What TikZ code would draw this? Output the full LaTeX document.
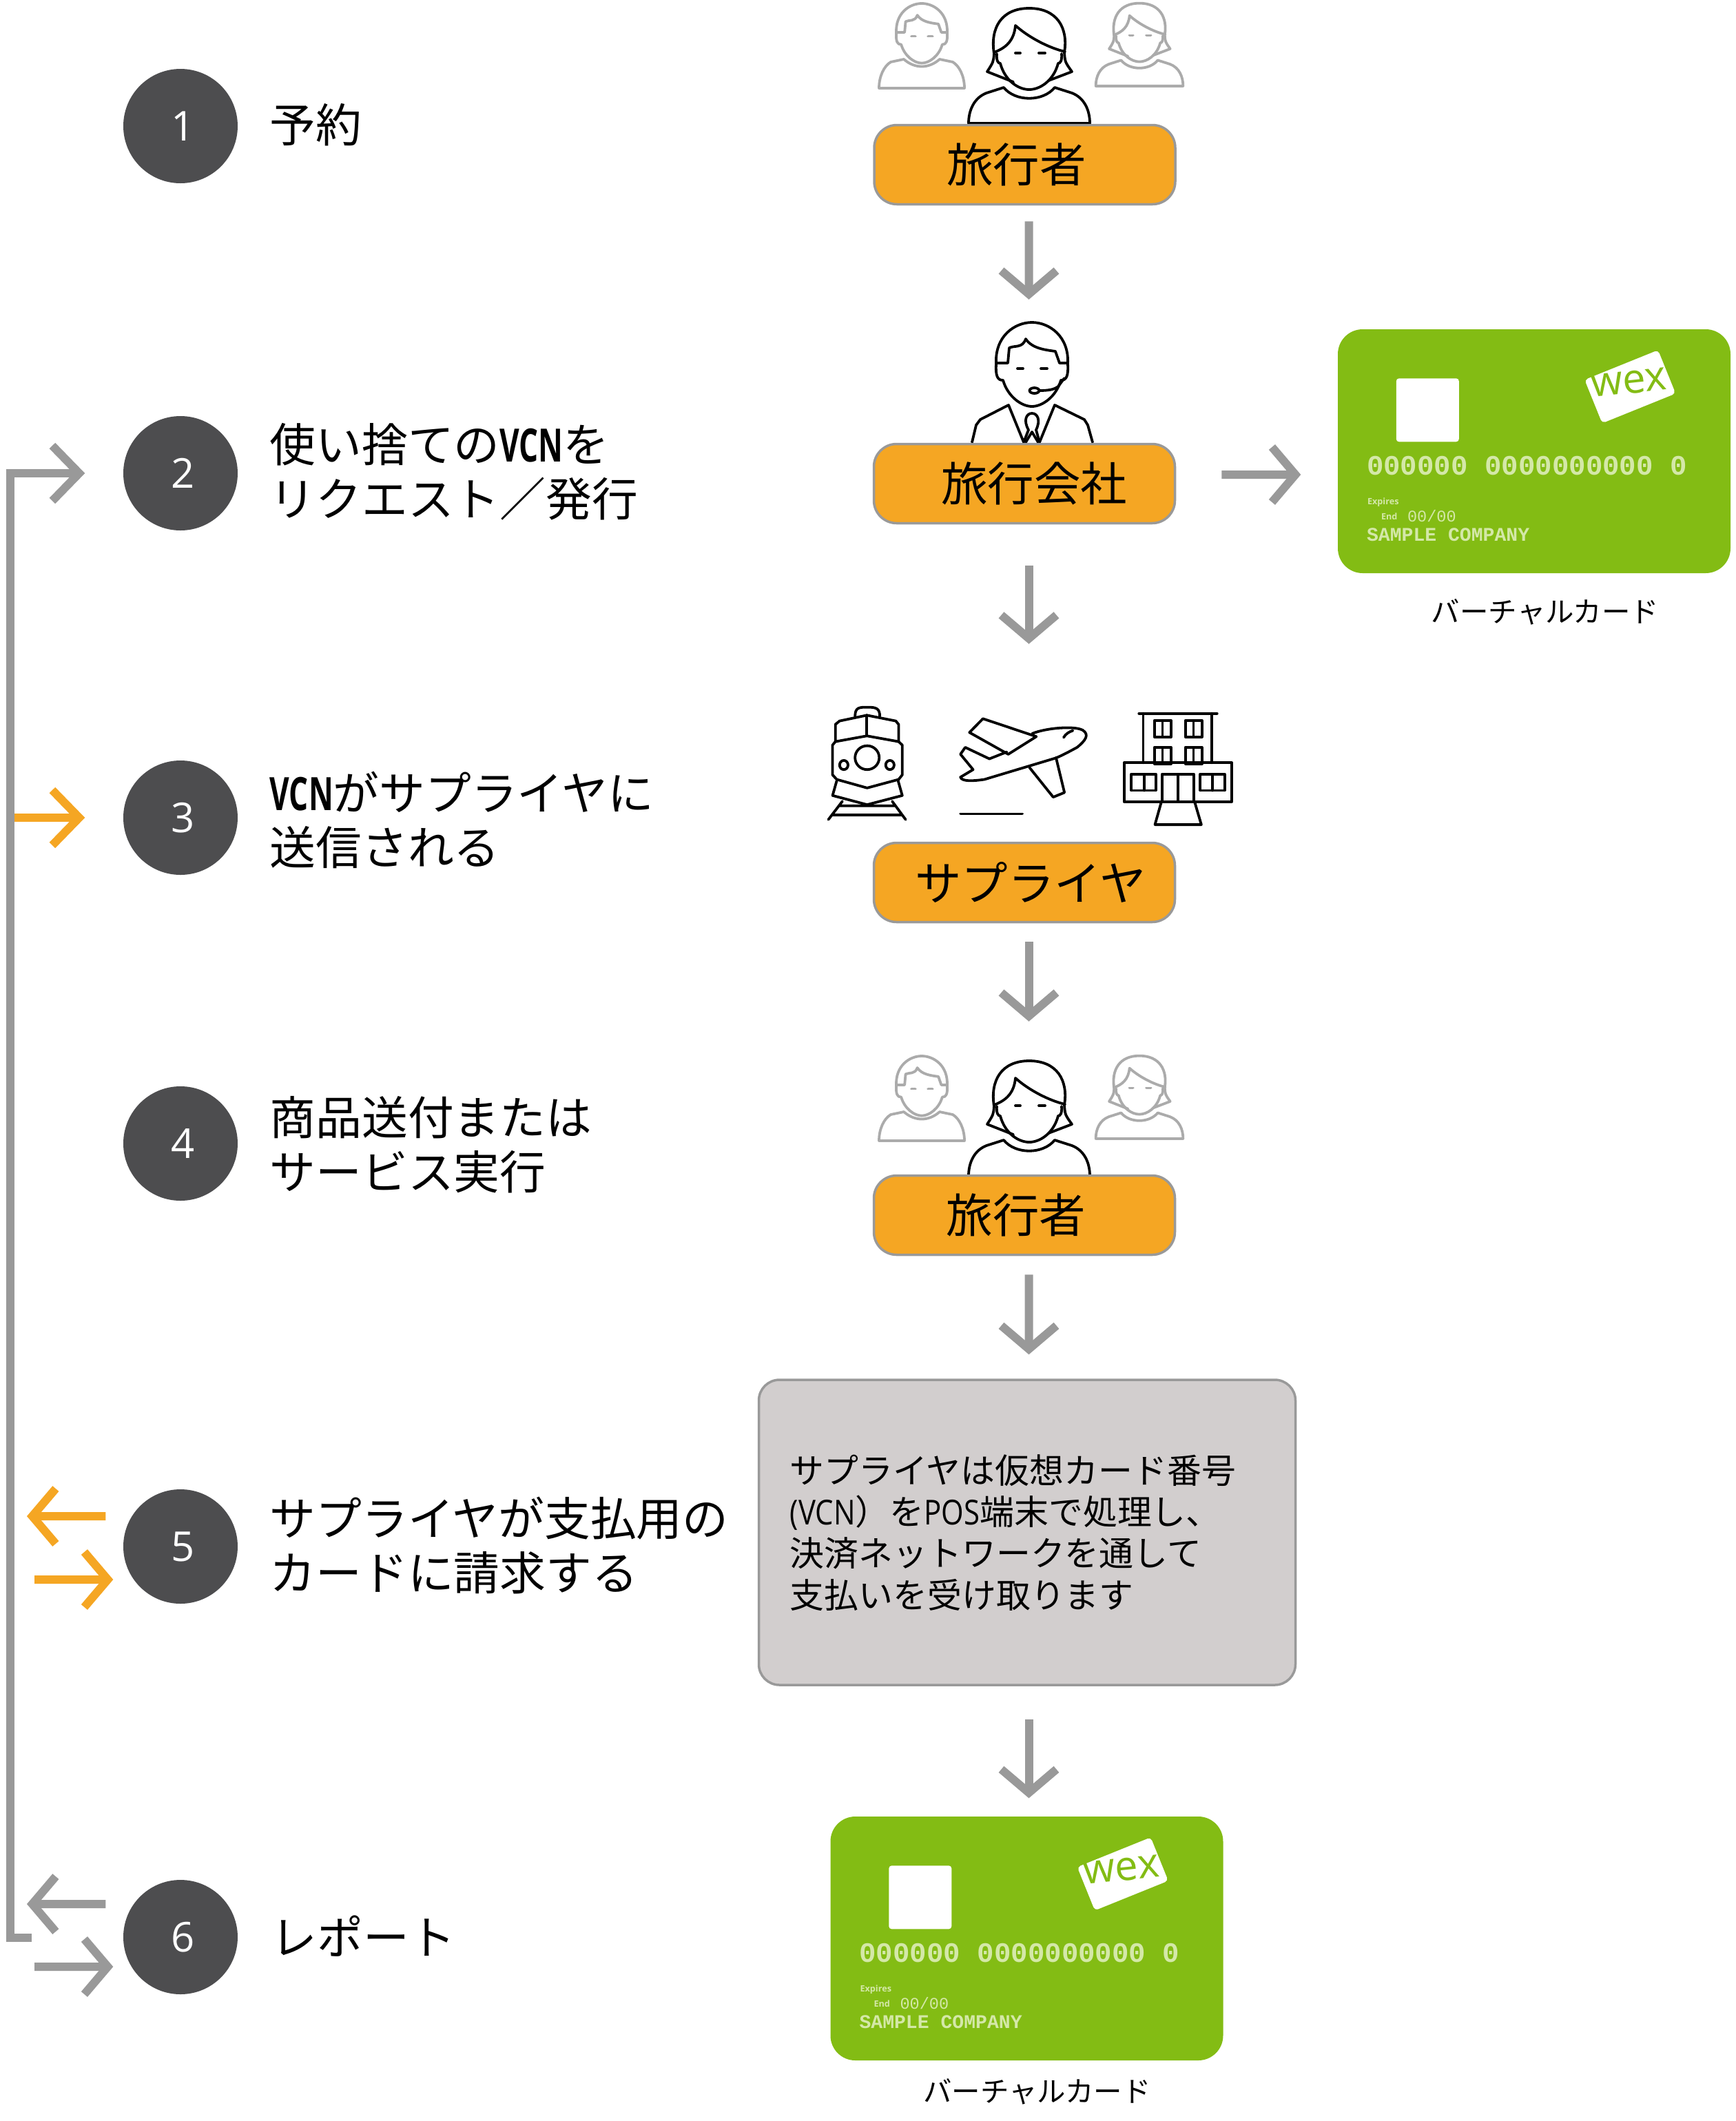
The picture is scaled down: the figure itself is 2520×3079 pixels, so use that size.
\documentclass[tikz,border=0pt]{standalone}
\usepackage{fontspec}
\setmainfont{Noto Sans CJK JP}
\newfontfamily\numfont{Open Sans}
\newfontfamily\narrowfont[FakeStretch=.66]{Open Sans}
\newfontfamily\latinfont[FakeStretch=.84]{Open Sans}
\newfontfamily\cardfont{Liberation Mono}
\usetikzlibrary{arrows.meta}
\definecolor{actor}{HTML}{F5A623}
\definecolor{wire}{HTML}{999999}
\definecolor{slate}{HTML}{4D4D4F}
\definecolor{panel}{HTML}{D2CECE}
\definecolor{wexgreen}{HTML}{83BC14}
\definecolor{cardtxt}{HTML}{D4E8A8}
\definecolor{faded}{HTML}{ABABAB}

\begin{document}
\begin{tikzpicture}[
  x=0.1mm,y=-0.1mm,
  step num/.style={circle,fill=slate,text=white,minimum size=16.6mm,inner sep=0pt,
    font=\numfont\fontsize{17}{20}\selectfont},
  lab/.style={anchor=west,align=left,inner sep=0pt,font=\fontsize{19}{22.5}\selectfont},
  role/.style={draw=wire,fill=actor,line width=.35mm,rounded corners=3.3mm,minimum width=43.7mm,
    minimum height=11.5mm,inner sep=0pt,font=\fontsize{19.2}{22}\selectfont},
  note/.style={draw=wire,fill=panel,line width=.35mm,rounded corners=3mm,minimum width=77.9mm,
    minimum height=44.3mm,inner sep=0pt},
  cardbox/.style={fill=wexgreen,rounded corners=3.6mm,minimum width=57mm,minimum height=35.4mm,inner sep=0pt},
  captxt/.style={inner sep=0pt,font=\fontsize{11.8}{14}\selectfont},
  flow/.style={draw=wire,line width=1.2mm,-{Straight Barb[length=3.4mm,width=8mm]}},
  oflow/.style={flow,draw=actor},
  icon/.style={line width=.38mm,line join=round,line cap=round},
  head/.pic={
    \draw[icon] (-52,60) .. controls (-54,20) and (-25,0) .. (0,0) .. controls (25,0) and (54,20) .. (52,60);
    \draw[icon] (-52,59) -- (-35,59) -- (-33,37) .. controls (-25,33) and (-14,38) .. (-9,24)
      .. controls (0,38) and (20,40) .. (34,42) -- (40,59) -- (52,59);
    \draw[icon] (-52,60) .. controls (-53,78) and (-50,84) .. (-42,84) .. controls (-35,108) and (-15,122) .. (0,122)
      .. controls (15,122) and (35,108) .. (42,84) .. controls (50,84) and (53,78) .. (52,60);
    \draw[icon] (-21,67) -- (-13,67) (13,67) -- (22,67);
  },
  man/.pic={
    \pic[scale=.71] {head};
    \draw[icon] (-26,81) .. controls (-10,95) and (10,95) .. (26,81) -- (45,85)
      .. controls (55,91) and (62,106) .. (62,123) -- (-62,123) .. controls (-62,106) and (-55,91) .. (-45,85) -- cycle;
  },
  woman/.pic={
    \draw[icon] (-51,78) .. controls (-57,40) and (-40,12) .. (0,12) .. controls (40,12) and (57,40) .. (51,76);
    \draw[icon] (-51,78) .. controls (-52,90) .. (-61,104) -- (-23,119);
    \draw[icon] (51,76) .. controls (52,90) .. (62,104) -- (28,117);
    \draw[icon] (-51,76) .. controls (-35,70) and (-22,60) .. (-20,37) .. controls (0,55) and (30,70) .. (52,75);
    \draw[icon] (-47,78) .. controls (-48,88) and (-45,92) .. (-42,92) .. controls (-35,118) and (-15,130) .. (0,130)
      .. controls (15,130) and (35,118) .. (42,92) .. controls (45,92) and (48,88) .. (47,78);
    \draw[icon] (-20,77) -- (-13,77) (14,77) -- (23,77);
    \draw[icon] (-37,127) .. controls (-20,148) and (20,148) .. (37,127) -- (62,135)
      .. controls (80,142) and (88,160) .. (88,179) -- (-88,179) .. controls (-88,160) and (-80,142) .. (-62,135) -- cycle;
  },
  cardface/.pic={
    \node[fill=white,rounded corners=.4mm,minimum width=9.1mm,minimum height=9.2mm,inner sep=0pt] (-chip) at (131,118) {};
    \node[fill=white,rounded corners=.5mm,minimum width=11.5mm,minimum height=6.8mm,inner sep=0pt,rotate=22] (-tag) at (425,84) {};
    \node[text=wexgreen,inner sep=0pt,rotate=6,font=\numfont\fontsize{17}{18}\selectfont] (-logo) at (423,78) {wex};
    \node[anchor=west,text=cardtxt,inner sep=0pt,font=\cardfont\bfseries\fontsize{11.6}{12}\selectfont] (-num) at (42,199) {000000 0000000000 0};
    \node[anchor=west,text=cardtxt,inner sep=0pt,font=\numfont\bfseries\fontsize{3.6}{4}\selectfont] (-exp) at (43,252) {Expires};
    \node[anchor=west,text=cardtxt,inner sep=0pt,font=\numfont\bfseries\fontsize{3.6}{4}\selectfont] (-end) at (63,272) {End};
    \node[anchor=west,text=cardtxt,inner sep=0pt,font=\cardfont\fontsize{6.7}{7}\selectfont] (-date) at (101,272) {00/00};
    \node[anchor=west,text=cardtxt,inner sep=0pt,font=\cardfont\bfseries\fontsize{8}{9}\selectfont] (-co) at (42,299) {SAMPLE COMPANY};
  }]
\useasboundingbox (0,0) rectangle (2520,3079);

% ---- steps on the left ----
\foreach \n/\y in {1/183,2/687,3/1187,4/1660,5/2245,6/2812}
  \node[step num] (n\n) at (262,\y) {\raisebox{-.4mm}{\hspace{.8mm}\n}};
\node[lab] (t1) at (391,181) {予約};
\node[lab] (t2) at (391,685) {使い捨ての{\narrowfont\bfseries VCN}を\\リクエスト／発行};
\node[lab] (t3) at (391,1190) {{\narrowfont\bfseries VCN}がサプライヤに\\送信される};
\node[lab] (t4) at (391,1662) {商品送付または\\サービス実行};
\node[lab] (t5) at (391,2243) {サプライヤが支払用の\\カードに請求する};
\node[lab] (t6) at (393,2811) {レポート};

% ---- travellers, top row ----
\pic[faded] at (1338,5) {man};
\pic[faded] at (1654,-4) [scale=.72] {woman};
\pic at (1494,0) {woman};
\node[role] (trav) at (1487.5,239) {旅行者\hspace{2.4mm}\null};

% ---- agency ----
\pic at (1498,468) {head};
\draw[icon] (1508,567) .. controls (1520,567) and (1530,566) .. (1536,561) -- (1545,549);
\draw[icon] (1501.5,567) ellipse (7 and 4);
\draw[icon] (1411,642) -- (1417,617) -- (1423,609) -- (1464,588) -- (1486,642);
\draw[icon] (1586,642) -- (1579,617) -- (1574,609) -- (1531,588) -- (1509,642);
\draw[icon] (1486,642) -- (1493,624) .. controls (1485,610) and (1490,600) .. (1498,600)
  .. controls (1506,600) and (1511,610) .. (1504,624) -- (1509,642);
\draw[icon] (1489,642) -- (1498,627) -- (1507,642);
\node[role] (agency) at (1487,702) {\hspace{2.8mm}旅行会社};

% ---- virtual card ----
\node[cardbox] (card) at (2227,655) {};
\pic (c1) at (card.north west) {cardface};
\node[captxt] (cap1) at (2243,888) {バーチャルカード};

% ---- train, plane, hotel ----
\begin{scope}[shift={(1180,1000)},x=.0408mm,y=-.0333mm]
  \draw[icon] (150,120) .. controls (150,80) and (165,80) .. (195,80) .. controls (225,80) and (238,85) .. (238,120);
  \draw[icon] (80,230) -- (80,155) -- (95,140) -- (192,115) -- (295,140) -- (305,155) -- (305,230) -- (192,205) -- cycle;
  \draw[icon] (192,115) -- (192,205);
  \draw[icon] (80,230) -- (70,245) -- (70,375) -- (85,395) -- (193,432) -- (305,395) -- (318,375) -- (318,245) -- (305,230);
  \draw[icon] (193,300) ellipse (43 and 52) (110,332) ellipse (15 and 20) (274,332) ellipse (15 and 20);
  \draw[icon] (85,400) -- (70,465) -- (193,505) -- (318,465) -- (303,400);
  \draw[icon] (55,570) -- (105,490) (330,570) -- (282,490) (95,510) -- (295,510) (70,550) -- (315,550);
  \draw[icon] (780,195) .. controls (830,170) and (930,160) .. (960,180) .. controls (985,200) and (970,225) .. (940,255)
    .. controls (910,275) and (880,295) .. (860,303) -- (610,395) .. controls (570,402) and (530,405) .. (525,385)
    -- (570,352) -- (525,285) -- (542,255) -- (628,305) -- (690,275);
  \draw[icon] (605,130) -- (795,208) -- (695,285) -- (557,190) -- cycle;
  \draw[icon] (770,342) -- (855,472) -- (895,452) -- (865,300);
  \draw[icon] (892,212) .. controls (900,195) and (912,187) .. (925,182);
  \draw[icon] (525,545) -- (745,545);
  \draw[icon] (1160,107) -- (1438,107) (1175,107) -- (1175,322) (1420,107) -- (1420,322);
  \foreach \wx/\wy in {1215/138,1325/138,1215/255,1325/255}
    \draw[icon] (\wx,\wy) rectangle ++(59,72) (\wx+29,\wy) -- ++(0,72);
  \draw[icon] (1107,322) rectangle (1490,492);
  \draw[icon] (1133,372) rectangle (1220,443) (1178,372) -- (1178,443);
  \draw[icon] (1378,372) rectangle (1465,443) (1422,372) -- (1422,443);
  \draw[icon] (1242,492) -- (1242,372) -- (1355,372) -- (1355,492) (1298,372) -- (1298,492);
  \draw[icon] (1240,492) -- (1217,592) -- (1382,592) -- (1358,492);
\end{scope}
\node[role] (supp) at (1487,1281) {\hspace{1.8mm}サプライヤ};

% ---- travellers, second row ----
\pic[faded] at (1338,1533) {man};
\pic[faded] at (1654,1524) [scale=.72] {woman};
\pic at (1494,1528) {woman};
\node[role] (trav2) at (1487,1764) {旅行者\hspace{2.4mm}\null};

% ---- settlement text and second card ----
\node[note] (pay) at (1491,2224.5) {};
\node[anchor=west,align=left,inner sep=0pt,font=\fontsize{14.2}{17.1}\selectfont] (paytxt) at (1146,2225)
  {サプライヤは仮想カード番号\\{\latinfont (VCN}）を{\latinfont POS}端末で処理し、\\決済ネットワークを通して\\支払いを受け取ります};
\node[cardbox] (card2) at (1490.5,2814) {};
\pic (c2) at (card2.north west) {cardface};
\node[captxt] (cap2) at (1505.5,3036) {バーチャルカード};

% ---- arrows down the middle ----
\foreach \s/\a/\t/\b/\m/\n in {trav/.6/agency/.65/2.3/20.8,agency/.65/supp/.65/6/28.7,supp/.65/trav2/.65/2.7/22.2,
    trav2/.65/pay/.25/2.7/3.5,pay/.25/card2/.3/4.8/2.6}
  \draw[flow,shorten <=\m mm,shorten >=\n mm] ([xshift=\a mm]\s.south) -- ([xshift=\b mm]\t.north);
\draw[flow,shorten <=6.6mm,shorten >=5.3mm] ([yshift=1.3mm]agency.east) -- ([yshift=-3.4mm]card.west);

% ---- arrows on the left ----
\coordinate (foot) at (46,2813);
\coordinate (trunk) at (14.5,2813);
\coordinate (branch) at (21,1187);
\coordinate (outo) at (39,2201);
\coordinate (ino) at (50,2293);
\coordinate (outg) at (39,2764);
\coordinate (ing) at (50,2855);
\draw[flow,shorten >=5.5mm,arrows={-{Straight Barb[length=3.9mm,width=8mm]}}] (foot) -- (trunk) |- (n2.west);
\draw[oflow,shorten >=5.5mm,arrows={-{Straight Barb[length=3.9mm,width=8mm]}}] (branch) -- (n3.west);
\draw[oflow,shorten <=2.5mm] ([yshift=4.4mm]n5.west) -- (outo);
\draw[oflow,shorten >=1.4mm] (ino) -- ([yshift=-4.8mm]n5.west);
\draw[flow,shorten <=2.5mm] ([yshift=4.8mm]n6.west) -- (outg);
\draw[flow,shorten >=1.4mm] (ing) -- ([yshift=-4.3mm]n6.west);
\end{tikzpicture}
\end{document}
